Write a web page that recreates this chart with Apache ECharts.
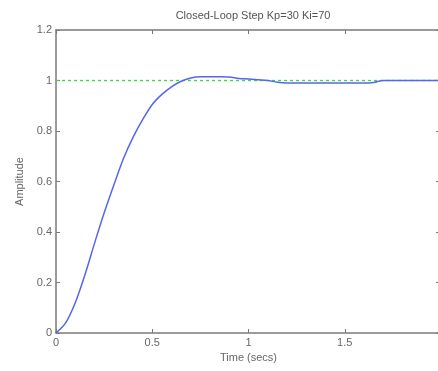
<!DOCTYPE html>
<html>
<head>
<meta charset="utf-8">
<script src="https://cdn.jsdelivr.net/npm/echarts@6/dist/echarts.min.js"></script>
<style>
html,body{margin:0;padding:0;background:#fff;}
#chart{width:438px;height:371px;}
</style>
</head>
<body>
<div id="chart"></div>
<script>
var titleText = 'Closed-Loop Step Kp=30 Ki=70';
var xAxisName = 'Time (secs)';
var yAxisName = 'Amplitude';
var timeValues = [0,0.05,0.1,0.15,0.2,0.25,0.3,0.35,0.4,0.45,0.5,0.55,0.6,0.65,0.7,0.75,0.8,0.85,0.9,0.95,1.0,1.05,1.1,1.15,1.2,1.3,1.4,1.5,1.6,1.65,1.7,1.8,1.9,2.0];
var amplitudeValues = [0,0.04,0.12,0.23,0.355,0.475,0.585,0.69,0.775,0.845,0.905,0.945,0.975,0.997,1.01,1.015,1.015,1.015,1.014,1.008,1.006,1.003,1.0,0.993,0.99,0.99,0.99,0.99,0.99,0.992,1.0,1.0,1.0,1.0];
var setpointTime = [0, 2];
var setpointValue = [1, 1];
var xTicks = [0, 0.5, 1, 1.5, 2];
var yTicks = [0, 0.2, 0.4, 0.6, 0.8, 1, 1.2];

var chart = echarts.init(document.getElementById('chart'), null, {renderer:'canvas'});
var axisCol = '#7a7a7a';
var labCol = '#666';
var fontFam = 'Liberation Sans, Arial, sans-serif';
function pairs(xs, ys){ return xs.map(function(x,i){return [x, ys[i]];}); }
chart.setOption({
  animation:false,
  backgroundColor:'#fff',
  title:{text:titleText, left:248, top:5, textAlign:'center',
    textStyle:{fontSize:11, fontWeight:'normal', color:'#555', fontFamily:fontFam}},
  grid:{left:56, top:30, right:-3, bottom:38, show:false, containLabel:false, outerBoundsMode:'none'},
  xAxis:[{
    type:'value', min:xTicks[0], max:xTicks[xTicks.length-1], interval:0.5,
    position:'bottom',
    name:xAxisName, nameLocation:'middle', nameGap:19,
    nameTextStyle:{fontSize:11, color:labCol, fontFamily:fontFam},
    axisLine:{show:true, onZero:false, lineStyle:{color:axisCol, width:1.5}},
    axisTick:{show:true, inside:true, length:4, lineStyle:{color:axisCol}},
    axisLabel:{fontSize:11, color:labCol, fontFamily:fontFam, margin:4, showMaxLabel:true, hideOverlap:false,
      formatter:function(v){return String(v);}},
    splitLine:{show:false}
  },{
    type:'value', min:xTicks[0], max:xTicks[xTicks.length-1], interval:0.5,
    position:'top',
    axisLine:{show:true, onZero:false, lineStyle:{color:axisCol, width:1.5}},
    axisTick:{show:true, inside:true, length:4, lineStyle:{color:axisCol}},
    axisLabel:{show:false}, splitLine:{show:false}
  }],
  yAxis:[{
    type:'value', min:yTicks[0], max:yTicks[yTicks.length-1], interval:0.2,
    position:'left',
    name:yAxisName, nameLocation:'middle', nameGap:28, nameRotate:90,
    nameTextStyle:{fontSize:11, color:labCol, fontFamily:fontFam},
    axisLine:{show:true, onZero:false, lineStyle:{color:axisCol, width:1.5}},
    axisTick:{show:true, inside:true, length:4, lineStyle:{color:axisCol}},
    axisLabel:{fontSize:11, color:labCol, fontFamily:fontFam, margin:4,
      formatter:function(v){return String(Math.round(v*10)/10);}},
    splitLine:{show:false}
  },{
    type:'value', min:yTicks[0], max:yTicks[yTicks.length-1], interval:0.2,
    position:'right',
    axisLine:{show:true, onZero:false, lineStyle:{color:axisCol, width:1.5}},
    axisTick:{show:true, inside:true, length:5, lineStyle:{color:axisCol}},
    axisLabel:{show:false}, splitLine:{show:false}
  }],
  series:[{
    type:'line', xAxisIndex:0, yAxisIndex:0,
    data:pairs(setpointTime, setpointValue), symbol:'none',
    lineStyle:{color:'#33dd33', width:1.3, type:[3,3]}, z:2
  },{
    type:'line', xAxisIndex:0, yAxisIndex:0,
    data:pairs(timeValues, amplitudeValues), symbol:'none', smooth:0.3,
    lineStyle:{color:'#5566ee', width:1.5}, z:3
  }]
});
</script>
</body>
</html>
